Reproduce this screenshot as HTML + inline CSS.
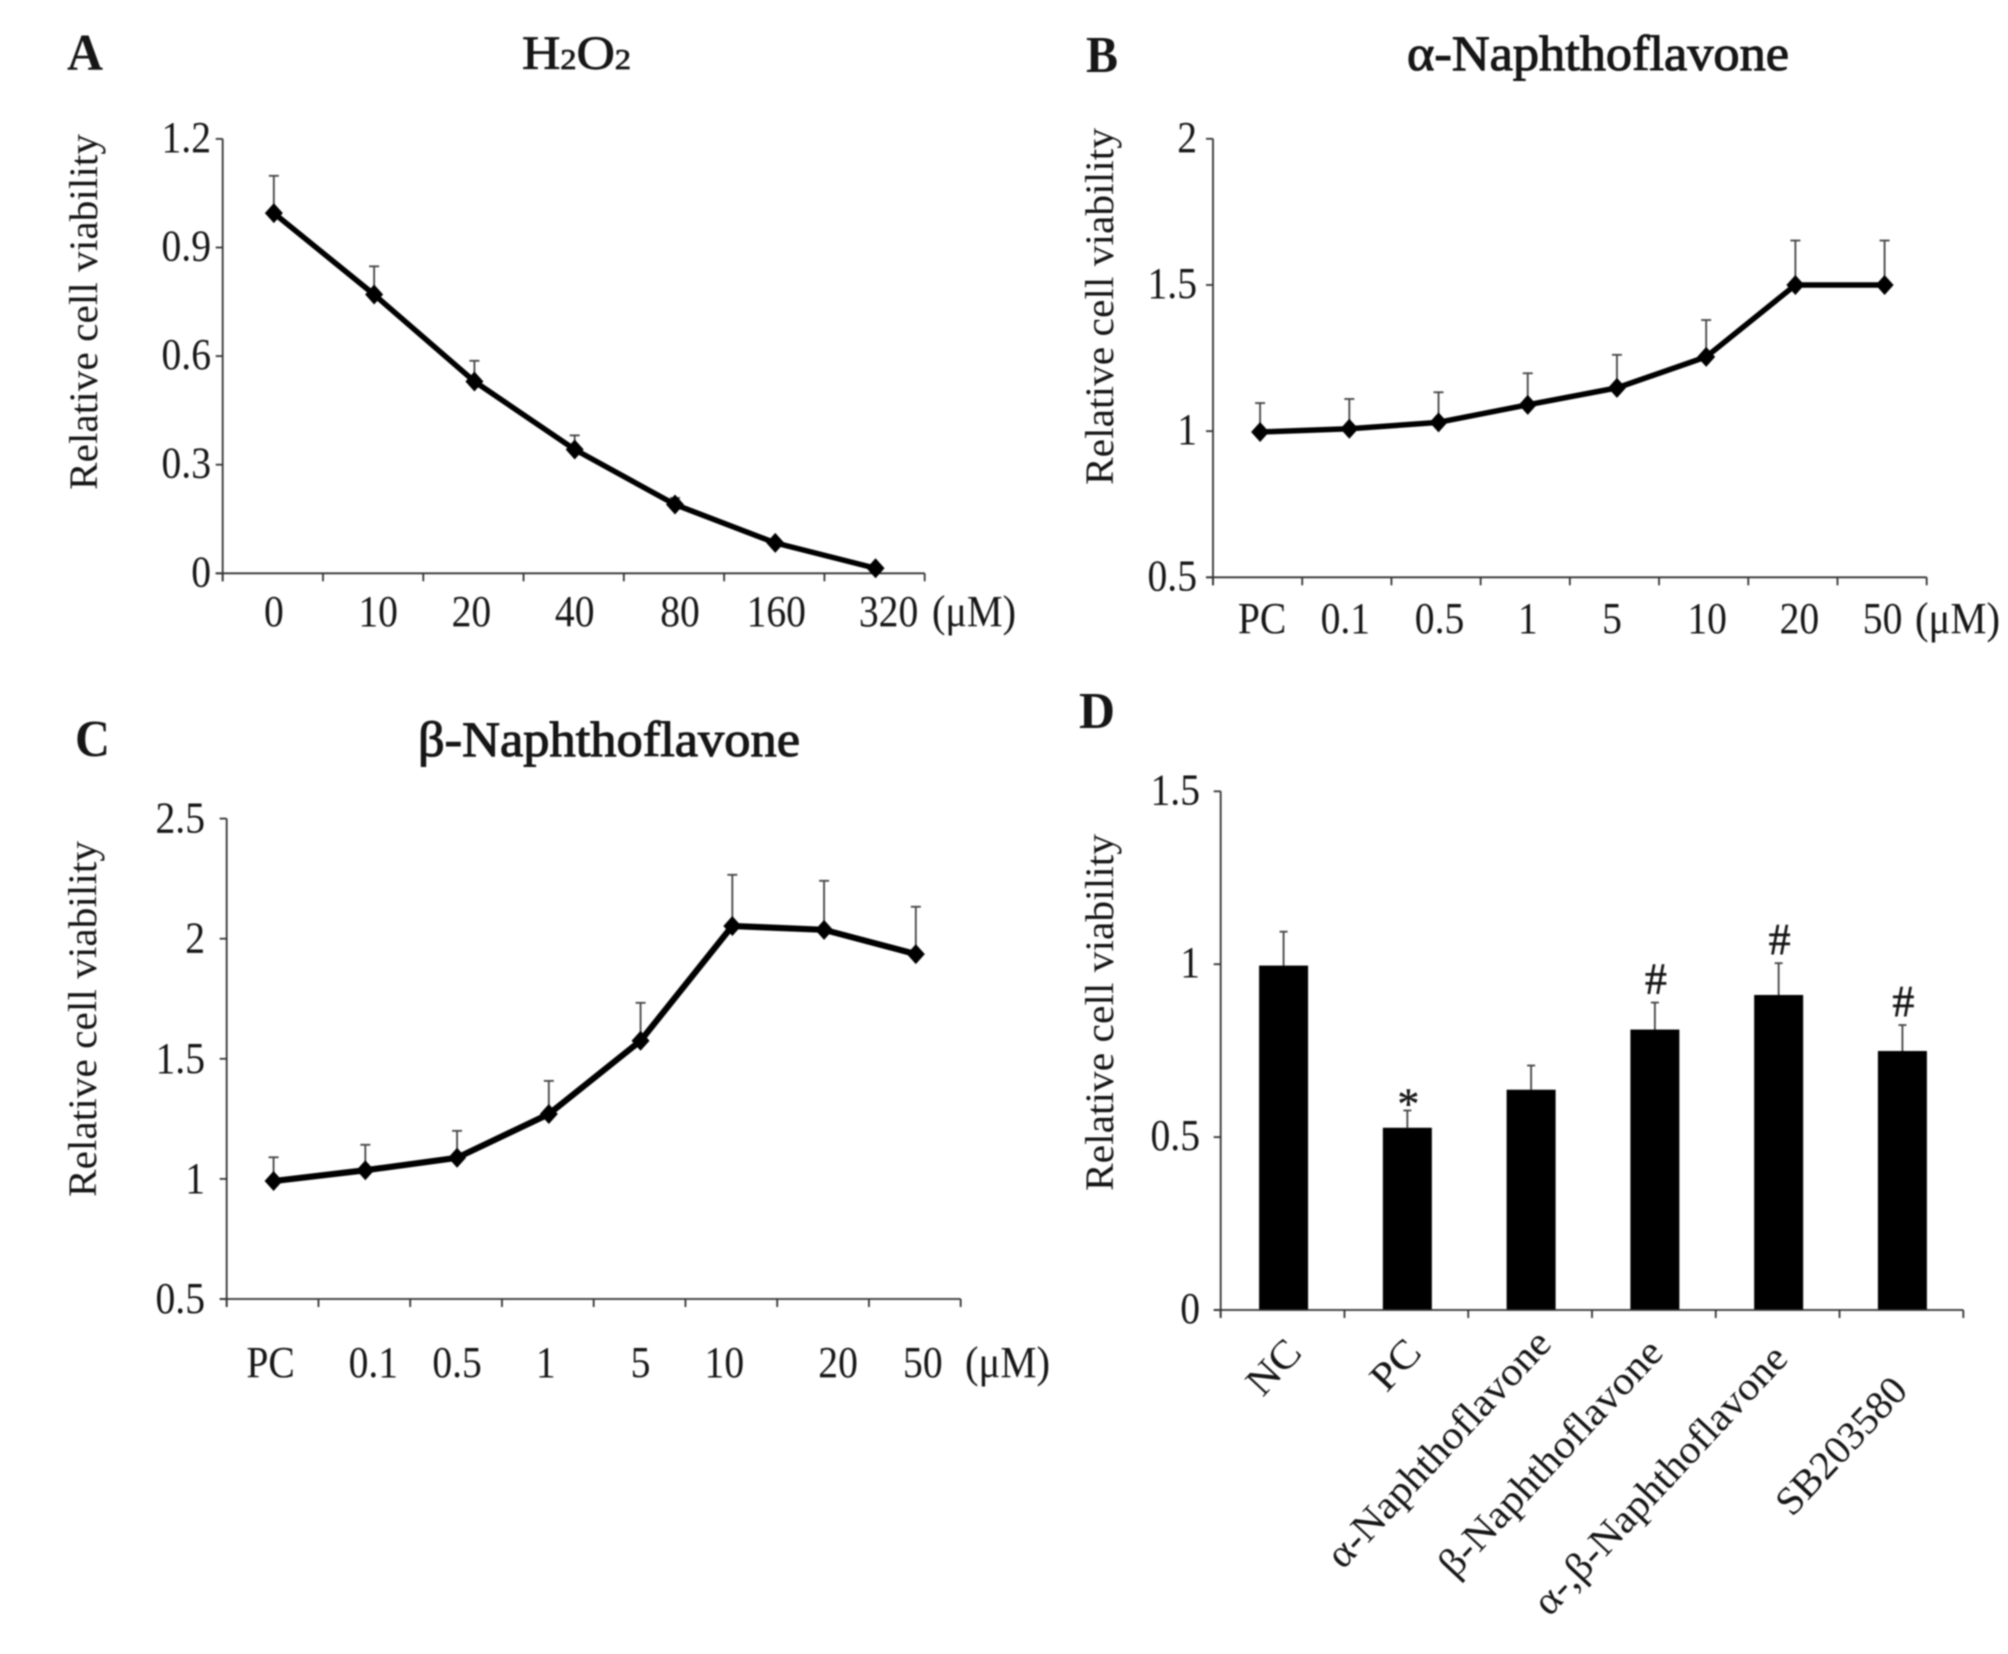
<!DOCTYPE html>
<html lang="en">
<head>
<meta charset="utf-8">
<title>Relative cell viability panels</title>
<style>
  html, body { margin: 0; padding: 0; background: #fff; }
  body { width: 2008px; height: 1654px; overflow: hidden; }
  #figure { display: block; filter: blur(0.8px); }
  text { font-family: "Liberation Serif", "Noto Serif CJK SC", serif; fill: #161616; }
</style>
</head>
<body>
<svg id="figure" xmlns="http://www.w3.org/2000/svg" width="2008" height="1654" viewBox="0 0 2008 1654">
  <rect x="0" y="0" width="2008" height="1654" fill="#ffffff"/>

  <text x="67" y="70" font-size="52" font-weight="bold" textLength="36" lengthAdjust="spacingAndGlyphs">A</text>
  <text x="1086" y="72" font-size="52" font-weight="bold" textLength="32" lengthAdjust="spacingAndGlyphs">B</text>
  <text x="75" y="756" font-size="52" font-weight="bold" textLength="35" lengthAdjust="spacingAndGlyphs">C</text>
  <text x="1079" y="728" font-size="52" font-weight="bold" textLength="36" lengthAdjust="spacingAndGlyphs">D</text>

  <text x="522" y="69" font-size="48" stroke="#161616" stroke-width="0.8" textLength="109" lengthAdjust="spacingAndGlyphs">H<tspan font-size="29">2</tspan>O<tspan font-size="29">2</tspan></text>
  <text x="1407" y="70" font-size="50" stroke="#161616" stroke-width="1.1" textLength="382" lengthAdjust="spacingAndGlyphs">α-Naphthoflavone</text>
  <text x="418" y="756" font-size="50" stroke="#161616" stroke-width="1.1" textLength="382" lengthAdjust="spacingAndGlyphs">β-Naphthoflavone</text>

  <text transform="translate(97,490) rotate(-90)" font-size="40" textLength="356" lengthAdjust="spacingAndGlyphs">Relative cell viability</text>
  <text transform="translate(1113,485) rotate(-90)" font-size="40" textLength="357" lengthAdjust="spacingAndGlyphs">Relative cell viability</text>
  <text transform="translate(96,1197) rotate(-90)" font-size="40" textLength="356" lengthAdjust="spacingAndGlyphs">Relative cell viability</text>
  <text transform="translate(1113,1191) rotate(-90)" font-size="40" textLength="357" lengthAdjust="spacingAndGlyphs">Relative cell viability</text>

  <text x="932" y="626" font-size="44" textLength="84" lengthAdjust="spacingAndGlyphs">(μM)</text>
  <text x="1915" y="633" font-size="44" textLength="85" lengthAdjust="spacingAndGlyphs">(μM)</text>
  <text x="965" y="1377" font-size="44" textLength="85" lengthAdjust="spacingAndGlyphs">(μM)</text>

  <g id="panel-a"></g>
  <g id="panel-b"></g>
  <g id="panel-c"></g>
  <g id="panel-d"></g>
</svg>

<script>
// ---- Panel A data ----
const aCategories = ['0', '10', '20', '40', '80', '160', '320'];
const aValues = [0.995, 0.77, 0.53, 0.342, 0.19, 0.084, 0.014];
const aErrors = [0.103, 0.078, 0.057, 0.039, 0.018, 0.008, 0.005];
const aTickValues = [0, 0.3, 0.6, 0.9, 1.2];
const aTickLabels = ['0', '0.3', '0.6', '0.9', '1.2'];

// ---- Panel B data ----
const bCategories = ['PC', '0.1', '0.5', '1', '5', '10', '20', '50'];
const bValues = [0.997, 1.008, 1.03, 1.09, 1.148, 1.254, 1.5, 1.5];
const bErrors = [0.099, 0.102, 0.103, 0.108, 0.113, 0.126, 0.152, 0.152];
const bTickValues = [0.5, 1, 1.5, 2];
const bTickLabels = ['0.5', '1', '1.5', '2'];

// ---- Panel C data ----
const cCategories = ['PC', '0.1', '0.5', '1', '5', '10', '20', '50'];
const cValues = [0.991, 1.036, 1.088, 1.27, 1.575, 2.053, 2.037, 1.936];
const cErrors = [0.099, 0.106, 0.112, 0.138, 0.158, 0.213, 0.204, 0.197];
const cTickValues = [0.5, 1, 1.5, 2, 2.5];
const cTickLabels = ['0.5', '1', '1.5', '2', '2.5'];

// ---- Panel D data ----
const dCategories = ['NC', 'PC', 'α-Naphthoflavone', 'β-Naphthoflavone', 'α-,β-Naphthoflavone', 'SB203580'];
const dValues = [0.996, 0.527, 0.637, 0.811, 0.911, 0.749];
const dErrors = [0.098, 0.05, 0.07, 0.078, 0.092, 0.075];
const dMarks = ['', '*', '', '#', '#', '#'];
const dTickValues = [0, 0.5, 1, 1.5];
const dTickLabels = ['0', '0.5', '1', '1.5'];

const SVG_NS = 'http://www.w3.org/2000/svg';
const TICK_FONT = 44;
const TICK_SQUEEZE = 0.9;

function make(parent, tag, attrs, content) {
  const el = document.createElementNS(SVG_NS, tag);
  for (const k in attrs) el.setAttribute(k, attrs[k]);
  if (content !== undefined) el.textContent = content;
  parent.appendChild(el);
  return el;
}

function linear(d0, d1, r0, r1) {
  return function (v) { return r0 + (v - d0) * (r1 - r0) / (d1 - d0); };
}

function squeezed(x, y) {
  return 'translate(' + x + ',' + y + ') scale(' + TICK_SQUEEZE + ',1)';
}

function drawAxes(g, box, yScale, tickValues, tickLabels, bandCount) {
  const axisY = make(g, 'line', { x1: box.left, x2: box.left, y1: box.top, y2: box.bottom + 8, stroke: '#333', 'stroke-width': 1.8 });
  
  
  const axisX = make(g, 'line', { x1: box.left - 7, x2: box.right, y1: box.bottom, y2: box.bottom, stroke: '#333', 'stroke-width': 1.8 });
  
  

  tickValues.forEach(function (v, i) {
    const y = yScale(v);
    const t = make(g, 'line', { x1: box.left - 7, x2: box.left, y1: y, y2: y, stroke: '#333', 'stroke-width': 1.8 });
    
    
    const l = make(g, 'text', { transform: squeezed(box.yLabelRight, y + box.yLabelDrop), 'font-size': TICK_FONT, 'text-anchor': 'end' }, tickLabels[i]);
    
    
  });

  const band = (box.right - box.left) / bandCount;
  for (let i = 0; i <= bandCount; i++) {
    const x = box.left + i * band;
    const t = make(g, 'line', { x1: x, x2: x, y1: box.bottom, y2: box.bottom + 8, stroke: '#333', 'stroke-width': 1.8 });
    
    
  }
}

function drawLinePanel(id, box, domain, categories, values, errors, tickValues, tickLabels, labelNudge) {
  const g = document.getElementById(id);
  const yScale = linear(domain[0], domain[1], box.bottom, box.top);
  const band = (box.right - box.left) / categories.length;
  const xScale = function (i) { return box.left + band * (i + 0.5) + box.shift; };

  drawAxes(g, box, yScale, tickValues, tickLabels, categories.length);

  values.forEach(function (v, i) {
    const x = xScale(i);
    const top = yScale(v + errors[i]);
    const stem = make(g, 'line', { x1: x, x2: x, y1: yScale(v), y2: top, stroke: '#444', 'stroke-width': 1.8 });
    
    
    const cap = make(g, 'line', { x1: x - 5, x2: x + 5, y1: top, y2: top, stroke: '#444', 'stroke-width': 1.8 });
    
    
  });

  const pts = values.map(function (v, i) { return xScale(i) + ',' + yScale(v); }).join(' ');
  const line = make(g, 'polyline', { points: pts, fill: 'none', stroke: '#000', 'stroke-width': box.lineWidth, 'stroke-linejoin': 'round' });
  
  

  values.forEach(function (v, i) {
    const x = xScale(i), y = yScale(v);
    const d = make(g, 'polygon', { points: (x - 9) + ',' + y + ' ' + x + ',' + (y - 10) + ' ' + (x + 9) + ',' + y + ' ' + x + ',' + (y + 10), fill: '#000' });
    
    
  });

  categories.forEach(function (c, i) {
    const l = make(g, 'text', { transform: squeezed(xScale(i) + labelNudge[i], box.xLabelY), 'font-size': TICK_FONT, 'text-anchor': 'middle' }, c);
    
    
  });
}

function drawBarPanel(id, box, domain, categories, values, errors, marks, tickValues, tickLabels) {
  const g = document.getElementById(id);
  const yScale = linear(domain[0], domain[1], box.bottom, box.top);
  const band = (box.right - box.left) / categories.length;
  const xScale = function (i) { return box.left + band * (i + 0.5); };

  values.forEach(function (v, i) {
    const x = xScale(i);
    const top = yScale(v + errors[i]);
    const stem = make(g, 'line', { x1: x + 1, x2: x + 1, y1: yScale(v), y2: top, stroke: '#444', 'stroke-width': 1.8 });
    
    
    const cap = make(g, 'line', { x1: x - 3, x2: x + 5, y1: top, y2: top, stroke: '#444', 'stroke-width': 1.8 });
    
    
    const bar = make(g, 'rect', { x: x - box.barWidth / 2 + 1, y: yScale(v), width: box.barWidth, height: box.bottom - yScale(v), fill: '#000' });
    
    
    if (marks[i]) {
      const star = marks[i] === '*';
      const m = make(g, 'text', { x: x + 2, y: star ? top + 8 : top - 9, 'font-size': 44, 'text-anchor': 'middle', stroke: '#161616', 'stroke-width': star ? 0.4 : 0.5 }, marks[i]);
      
      
    }
  });

  drawAxes(g, box, yScale, tickValues, tickLabels, categories.length);

  categories.forEach(function (c, i) {
    const ends = box.labelEnds[i];
    const l = make(g, 'text', { transform: 'translate(' + (xScale(i) + ends.dx) + ',' + (box.bottom + ends.dy) + ') rotate(-47)', 'font-size': 40, 'text-anchor': 'end', textLength: ends.len, lengthAdjust: 'spacingAndGlyphs' }, c);
    
    
  });
}

drawLinePanel('panel-a',
  { left: 222.7, right: 924.7, top: 138.9, bottom: 573.3, shift: 1, lineWidth: 5.5, yLabelRight: 211, yLabelDrop: 13, xLabelY: 626 },
  [0, 1.2], aCategories, aValues, aErrors, aTickValues, aTickLabels, [0, 4, -3, 0, 5, 1, 13]);

drawLinePanel('panel-b',
  { left: 1213, right: 1926.7, top: 138.8, bottom: 577.3, shift: 2.5, lineWidth: 5.5, yLabelRight: 1197, yLabelDrop: 13, xLabelY: 633 },
  [0.5, 2], bCategories, bValues, bErrors, bTickValues, bTickLabels, [2, -4, 1, 0, -5, 1, 4, -2]);

drawLinePanel('panel-c',
  { left: 226.7, right: 960.7, top: 818.6, bottom: 1299, shift: 1, lineWidth: 6.2, yLabelRight: 205, yLabelDrop: 14, xLabelY: 1377 },
  [0.5, 2.5], cCategories, cValues, cErrors, cTickValues, cTickLabels, [-3, 8, 0, -3, 0, -8, 14, 7]);

drawBarPanel('panel-d',
  { left: 1220.7, right: 1963.3, top: 791.3, bottom: 1310, barWidth: 49, yLabelRight: 1200, yLabelDrop: 13,
    labelEnds: [
      { dx: 21, dy: 44, len: 60 },
      { dx: 17, dy: 44, len: 54 },
      { dx: 23, dy: 35, len: 308 },
      { dx: 11, dy: 44, len: 308 },
      { dx: 12, dy: 50, len: 352 },
      { dx: 8, dy: 82, len: 172 }
    ] },
  [0, 1.5], dCategories, dValues, dErrors, dMarks, dTickValues, dTickLabels);
</script>
</body>
</html>
